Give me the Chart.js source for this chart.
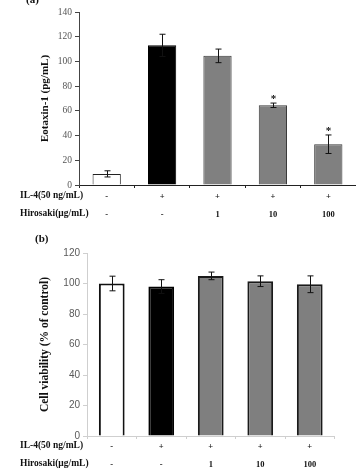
<!DOCTYPE html>
<html>
<head>
<meta charset="utf-8">
<script src="https://cdn.jsdelivr.net/npm/chart.js@4.4.1/dist/chart.umd.min.js"></script>
<style>
  html, body { margin: 0; padding: 0; background: #fff; width: 356px; height: 474px; overflow: hidden; }
  .wrap { position: absolute; left: 0; }
  .lbl { position: absolute; font-family: "Liberation Serif", "Times New Roman", serif; font-weight: bold; color: #111; white-space: nowrap; }
  .row { font-size: 9.5px; }
  .panel { font-size: 11px; }
</style>
</head>
<body>
<div class="wrap" style="top:0;width:356px;height:230px;"><canvas id="ca"></canvas></div>
<div class="wrap" style="top:240px;width:356px;height:234px;"><canvas id="cb"></canvas></div>
<div class="lbl panel" style="left:26px;top:-7px;">(a)</div>
<div class="lbl panel" style="left:35px;top:232px;">(b)</div>
<div class="lbl row" style="left:20px;top:190px;">IL-4(50 ng/mL)</div>
<div class="lbl row" style="left:20px;top:208px;">Hirosaki(μg/mL)</div>
<div class="lbl row" style="left:20px;top:440px;">IL-4(50 ng/mL)</div>
<div class="lbl row" style="left:20px;top:458px;">Hirosaki(μg/mL)</div>
<script>
// ---- data ----
const il4 = ['-', '+', '+', '+', '+'];
const hirosaki = ['-', '-', '1', '10', '100'];
const eotaxin = [9, 113, 104.5, 64.5, 33];
const eotaxinErr = [2.5, 9, 5.5, 1.8, 7.5];
const eotaxinSig = ['', '', '', '*', '*'];
const viability = [100, 98, 105, 101.5, 99.5];
const viabilityErr = [4.8, 4.5, 2.5, 3.5, 5.5];
const yTicksA = [0, 20, 40, 60, 80, 100, 120, 140];
const yTicksB = [0, 20, 40, 60, 80, 100, 120];

const catLabels = il4.map((v, i) => [v, hirosaki[i]]);

const errPlugin = {
  id: 'errbars',
  afterDatasetsDraw(chart, args, opts) {
    const ctx = chart.ctx;
    const meta = chart.getDatasetMeta(0);
    const ys = chart.scales.y;
    const data = chart.data.datasets[0].data;
    ctx.save();
    ctx.strokeStyle = '#111';
    ctx.lineWidth = 1;
    meta.data.forEach((bar, i) => {
      const e = opts.err[i];
      const x = Math.round(bar.x) + 0.5;
      const yt = ys.getPixelForValue(data[i] + e);
      const yb = ys.getPixelForValue(data[i] - e);
      ctx.beginPath();
      ctx.moveTo(x, yt); ctx.lineTo(x, yb);
      ctx.moveTo(x - opts.cap, yt); ctx.lineTo(x + opts.cap, yt);
      ctx.moveTo(x - opts.cap, yb); ctx.lineTo(x + opts.cap, yb);
      ctx.stroke();
      if (opts.sig && opts.sig[i]) {
        ctx.fillStyle = '#111';
        ctx.font = 'bold 11px "Liberation Serif", serif';
        ctx.textAlign = 'center';
        ctx.textBaseline = 'middle';
        ctx.fillText(opts.sig[i], x, yt - 4);
      }
    });
    ctx.restore();
  }
};

const serif = '"Liberation Serif", "Times New Roman", serif';

new Chart(document.getElementById('ca'), {
  type: 'bar',
  data: {
    labels: catLabels,
    datasets: [{
      data: eotaxin,
      backgroundColor: ['#ffffff', '#000000', '#808080', '#808080', '#808080'],
      borderColor: ['#222', '#000', '#3a3a3a', '#3a3a3a', '#3a3a3a'],
      borderWidth: 1,
      barPercentage: 0.51,
      categoryPercentage: 1
    }]
  },
  options: {
    responsive: true, maintainAspectRatio: false, animation: false,
    layout: { padding: { top: 12, right: 0, left: 0, bottom: 0 } },
    plugins: { legend: { display: false }, tooltip: { enabled: false },
      errbars: { err: eotaxinErr, cap: 3, sig: eotaxinSig } },
    scales: {
      x: {
        grid: { drawOnChartArea: false, tickLength: 3, color: '#222', offset: true },
        border: { color: '#222', width: 1 },
        ticks: { padding: 0, color: '#111', font: { family: serif, size: 8.5, weight: 'bold', lineHeight: '17.6px' }, maxRotation: 0, autoSkip: false },
        afterFit(s) { s.height = 45; }
      },
      y: {
        min: 0, max: 140,
        afterBuildTicks(s) { s.ticks = yTicksA.map(v => ({ value: v })); },
        grid: { drawOnChartArea: false, tickLength: 4, color: '#444' },
        border: { color: '#444', width: 1 },
        ticks: { padding: 3, color: '#555', font: { family: serif, size: 9.5 } },
        title: { display: true, text: 'Eotaxin-1 (pg/mL)', color: '#111', padding: { top: 39 }, font: { family: serif, size: 11, weight: 'bold', lineHeight: 1.2 } },
        afterFit(s) { s.width = 79; }
      }
    }
  },
  plugins: [errPlugin]
});

new Chart(document.getElementById('cb'), {
  type: 'bar',
  data: {
    labels: catLabels,
    datasets: [{
      data: viability,
      backgroundColor: ['#ffffff', '#000000', '#7f7f7f', '#7f7f7f', '#7f7f7f'],
      borderColor: ['#111', '#000', '#1a1a1a', '#1a1a1a', '#1a1a1a'],
      borderWidth: 2,
      barPercentage: 0.52,
      categoryPercentage: 1
    }]
  },
  options: {
    responsive: true, maintainAspectRatio: false, animation: false,
    layout: { padding: { top: 13, right: 21.5, left: 0, bottom: 0 } },
    plugins: { legend: { display: false }, tooltip: { enabled: false },
      errbars: { err: viabilityErr, cap: 3 } },
    scales: {
      x: {
        grid: { drawOnChartArea: false, tickLength: 3, color: '#cfcfcf', offset: true },
        border: { color: '#cfcfcf', width: 1 },
        ticks: { padding: -1, color: '#111', font: { family: serif, size: 8.5, weight: 'bold', lineHeight: '17.6px' }, maxRotation: 0, autoSkip: false },
        afterFit(s) { s.height = 38; }
      },
      y: {
        min: 0, max: 120,
        afterBuildTicks(s) { s.ticks = yTicksB.map(v => ({ value: v })); },
        grid: { drawOnChartArea: false, tickLength: 4, color: '#cfcfcf' },
        border: { color: '#cfcfcf', width: 1 },
        ticks: { padding: 3, color: '#595959', font: { family: '"Liberation Sans", Arial, sans-serif', size: 10 } },
        title: { display: true, text: 'Cell viability (% of control)', color: '#111', padding: { top: 38 }, font: { family: serif, size: 11.5, weight: 'bold', lineHeight: 1.2 } },
        afterFit(s) { s.width = 87; }
      }
    }
  },
  plugins: [errPlugin]
});
</script>
</body>
</html>
